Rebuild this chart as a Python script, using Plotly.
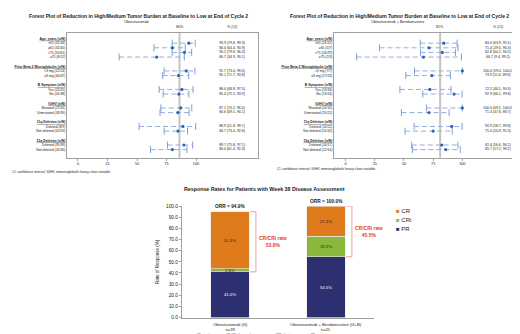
import plotly.graph_objects as go

W, H = 520, 334

# ---------------- data ----------------
groups = ["Age, years (n/N)", "Prior Beta 2 Microglobulin (n/N)", "B Symptom (n/N)",
          "IGHV (n/N)", "11q Deletion (n/N)", "13q Deletion (n/N)"]
group_sizes = [4, 2, 2, 2, 2, 2]

g_labels = ["<65 (31/33)", "≥65 (32/40)", "<75 (55/61)", "≥75 (8/12)",
            "<3 mg (22/24)", "≥3 mg (40/47)", "Yes (22/25)", "No (41/48)",
            "Mutated (27/31)", "Unmutated (33/39)", "Deleted (8/9)", "Not deleted (50/59)",
            "Deleted (35/39)", "Not deleted (24/30)"]
g_est = [93.9, 80.0, 90.2, 66.7, 91.7, 85.1, 88.0, 85.4, 87.1, 84.6, 88.9, 84.7, 89.7, 80.0]
g_lo = [79.8, 64.4, 79.8, 34.9, 73.0, 71.7, 68.8, 72.2, 70.2, 69.5, 51.8, 73.0, 75.8, 61.4]
g_hi = [99.3, 90.9, 96.3, 90.1, 99.0, 93.8, 97.5, 93.9, 96.4, 94.1, 99.7, 92.8, 97.1, 92.3]
g_ref = 86

gb_labels = ["<65 (21/25)", "≥65 (5/7)", "<75 (24/29)", "≥75 (2/3)",
             "<3 mg (7/7)", "≥3 mg (17/23)", "Yes (13/18)", "No (13/14)",
             "Mutated (10/10)", "Unmutated (15/21)", "Deleted (10/11)", "Not deleted (15/20)",
             "Deleted (14/17)", "Not deleted (12/14)"]
gb_est = [84.0, 71.4, 82.8, 66.7, 100.0, 73.9, 72.2, 92.9, 100.0, 71.4, 90.9, 75.0, 82.4, 85.7]
gb_lo = [63.9, 29.0, 64.2, 9.4, 59.0, 51.6, 46.5, 66.1, 69.2, 47.8, 58.7, 50.9, 56.6, 57.2]
gb_hi = [95.5, 96.3, 94.2, 99.2, 100.0, 89.8, 90.3, 99.8, 100.0, 88.7, 99.8, 91.3, 96.2, 98.2]
gb_ref = 81

forest_ticks = [0, 25, 50, 75, 100]

bar_cats = ["Obinutuzumab (G)<br>n=39", "Obinutuzumab + Bendamustine (G+B)<br>n=11"]
pr_vals = [41.0, 54.5]
cri_vals = [2.6, 18.2]
cr_vals = [51.3, 27.3]
orr_vals = [94.9, 100.0]
crcri_vals = [53.8, 45.5]
bar_ticks = [0, 10, 20, 30, 40, 50, 60, 70, 80, 90, 100]

C_CR, C_CRI, C_PR = "#DF7B1D", "#8BB73E", "#2C3070"
RED = "#E03A33"
FONT = "Liberation Sans, Arial, sans-serif"


def fx(p):
    return p / W


def fy(p):
    return 1 - p / H


def ann(**kw):
    d = dict(showarrow=False, xanchor="center", yanchor="middle", borderpad=0)
    d.update(kw)
    return d


# y positions for forest rows
row_pos, head_pos = [], []
pos = 0
for n in group_sizes:
    head_pos.append(pos)
    pos += 1
    for _ in range(n):
        row_pos.append(pos)
        pos += 1
    pos += 1

fig = go.Figure()
annotations = []
shapes = []


def add_forest(labels, est, lo, hi, ref, xa, ya, title_x, title, subtitle, foot_x, foot_y):
    xs, ys = [], []
    for l, h, p in zip(lo, hi, row_pos):
        xs += [l, h, None]
        ys += [p, p, None]
    fig.add_trace(go.Scatter(x=xs, y=ys, mode="lines", xaxis=xa, yaxis=ya,
                             line=dict(color="#93AEDD", width=1, dash="5px,3px"),
                             showlegend=False, hoverinfo="skip"))
    fig.add_trace(go.Scatter(x=lo + hi, y=row_pos + row_pos, mode="markers", xaxis=xa, yaxis=ya,
                             marker=dict(symbol="line-ns", size=5, line=dict(color="#7E9ED6", width=1)),
                             showlegend=False, hoverinfo="skip"))
    fig.add_trace(go.Scatter(x=est, y=row_pos, mode="markers", xaxis=xa, yaxis=ya,
                             marker=dict(symbol="circle", size=3.2, color="#2E62B8"),
                             showlegend=False))
    fig.add_trace(go.Scatter(x=[130.5] * len(est), y=row_pos, mode="text", xaxis=xa, yaxis=ya,
                             text=["%.1f (%.1f, %.1f)" % (e, l, h) for e, l, h in zip(est, lo, hi)],
                             textfont=dict(size=3.5, color="#222", family=FONT),
                             showlegend=False, cliponaxis=False, hoverinfo="skip"))
    shapes.append(dict(type="line", xref=xa, yref=ya + " domain", x0=ref, x1=ref, y0=0, y1=1,
                       line=dict(color="#C4C4C4", width=2), layer="below"))
    annotations.append(ann(text="<b>" + title + "</b>", x=fx(title_x), y=fy(6), xref="paper", yref="paper",
                           font=dict(size=5.0, color="#222", family=FONT)))
    annotations.append(ann(text=subtitle, x=fx(title_x - 2), y=fy(12.5), xref="paper", yref="paper",
                           font=dict(size=3.8, color="#222", family=FONT)))
    annotations.append(ann(text="%d%%" % ref, x=ref, y=fy(17.5), xref=xa, yref="paper",
                           font=dict(size=3.6, color="#222", family=FONT)))
    annotations.append(ann(text="% (CI)", x=130.5, y=fy(17.5), xref=xa, yref="paper",
                           font=dict(size=3.6, color="#222", family=FONT)))
    annotations.append(ann(text="CI, confidence interval; IGHV, immunoglobulin heavy chain variable.",
                           x=fx(foot_x), y=fy(foot_y), xref="paper", yref="paper", xanchor="left",
                           font=dict(size=3.3, color="#222", family=FONT)))


TITLE = "Forest Plot of Reduction in High/Medium Tumor Burden at Baseline to Low at End of Cycle 2"
add_forest(g_labels, g_est, g_lo, g_hi, g_ref, "x", "y", 130, TITLE, "Obinutuzumab", 2.5, 164)
add_forest(gb_labels, gb_est, gb_lo, gb_hi, gb_ref, "x2", "y2", 391, TITLE,
           "Obinutuzumab + Bendamustine", 268, 161)

# ---------------- bar chart ----------------
for name, vals, col in [("PR", pr_vals, C_PR), ("CRi", cri_vals, C_CRI), ("CR", cr_vals, C_CR)]:
    fig.add_trace(go.Bar(x=[0, 1], y=vals, name=name,
                         marker=dict(color=col, line=dict(color="#E8E8E8", width=0.6)),
                         width=0.4, xaxis="x3", yaxis="y3", showlegend=False))

for i in range(2):
    base = 0
    for vals, tcol in [(pr_vals, "white"), (cri_vals, "#222"), (cr_vals, "#222")]:
        annotations.append(ann(text="%.1f%%" % vals[i], x=i, y=base + vals[i] / 2, xref="x3", yref="y3",
                               font=dict(size=4.2, color=tcol, family=FONT)))
        base += vals[i]
    annotations.append(ann(text="<b>ORR = %.1f%%</b>" % orr_vals[i], x=i, y=orr_vals[i], xref="x3", yref="y3",
                           yanchor="bottom", yshift=1.5, font=dict(size=4.8, color="#222", family=FONT)))
    top = orr_vals[i]
    bot = pr_vals[i]
    xe, xb = i + 0.21, i + 0.27
    shapes.append(dict(type="path", xref="x3", yref="y3",
                       path="M %f,%f L %f,%f L %f,%f L %f,%f" % (xe, top, xb, top, xb, bot, xe, bot),
                       line=dict(color="#EE9A9A", width=1)))
    annotations.append(ann(text="<b>CR/CRi rate<br>%.1f%%</b>" % crcri_vals[i], x=i + 0.45, y=(top + bot) / 2,
                           xref="x3", yref="y3", font=dict(size=5, color=RED, family=FONT)))
    # category label
    annotations.append(ann(text=bar_cats[i], x=i, y=fy(321.5), xref="x3", yref="paper",
                           font=dict(size=4.2, color="#222", family=FONT)))

# legend via annotations
for k, (name, col) in enumerate([("CR", C_CR), ("CRi", C_CRI), ("PR", C_PR)]):
    annotations.append(ann(text="<span style='color:%s'>■</span> %s" % (col, name), x=fx(387), y=fy(204 + 9 * k),
                           xref="paper", yref="paper", xanchor="left",
                           font=dict(size=6, color="#222", family=FONT)))

annotations.append(ann(text="<b>Response Rates for Patients with Week 38 Disease Assessment</b>",
                       x=fx(256), y=fy(182), xref="paper", yref="paper",
                       font=dict(size=5.3, color="#222", family=FONT)))
annotations.append(ann(text="CR, complete remission; CRi, CR with incomplete marrow recovery; ORR, objective response rate; PR, partial remission.",
                       x=fx(258), y=fy(329.5), xref="paper", yref="paper",
                       font=dict(size=2.6, color="#333", family=FONT)))

axis_common = dict(showgrid=False, zeroline=False, showline=True, linecolor="#A0A0A0", linewidth=1, mirror=True)
ytick_vals = list(head_pos)
ytick_text = ["<b><u>" + g + "</u></b>" for g in groups]


def yaxis_forest(labels, dom, anchor):
    return dict(domain=dom, range=[25.76, -1.27], tickvals=ytick_vals + row_pos,
                ticktext=ytick_text + labels, ticks="", tickfont=dict(size=3.4, color="#222", family=FONT),
                anchor=anchor, **axis_common)


def xaxis_forest(rng, dom, anchor):
    return dict(domain=dom, range=rng, tickvals=forest_ticks, ticks="outside", ticklen=2, tickcolor="#A0A0A0",
                tickfont=dict(size=3.8, color="#222", family=FONT), anchor=anchor, **axis_common)


fig.update_layout(
    width=W, height=H, margin=dict(l=0, r=0, t=0, b=0),
    paper_bgcolor="white", plot_bgcolor="white", barmode="stack",
    font=dict(family=FONT, color="#222"),
    xaxis=xaxis_forest([-9.3, 152.5], [fx(59), fx(250)], "y"),
    yaxis=yaxis_forest(g_labels, [fy(150), fy(23)], "x"),
    xaxis2=xaxis_forest([-10, 150.3], [fx(326), fx(513)], "y2"),
    yaxis2=yaxis_forest(gb_labels, [fy(150), fy(23)], "x2"),
    xaxis3=dict(domain=[fx(174), fx(366)], range=[-0.5, 1.5], showticklabels=False,
                showgrid=False, zeroline=False, showline=True, linecolor="#A0A0A0", linewidth=1,
                ticks="", anchor="y3"),
    yaxis3=dict(domain=[fy(312.3), fy(199)], range=[0, 100], tickvals=bar_ticks,
                ticktext=["%.1f" % v for v in bar_ticks], showgrid=False, zeroline=False, showline=True,
                linecolor="#A0A0A0", linewidth=1, ticks="outside", ticklen=2, tickcolor="#A0A0A0",
                tickfont=dict(size=4.8, color="#222", family=FONT), anchor="x3",
                title=dict(text="Rate of Response (%)", font=dict(size=4.5, color="#222", family=FONT), standoff=6)),
    annotations=annotations, shapes=shapes,
)

fig.write_html("out.html")
